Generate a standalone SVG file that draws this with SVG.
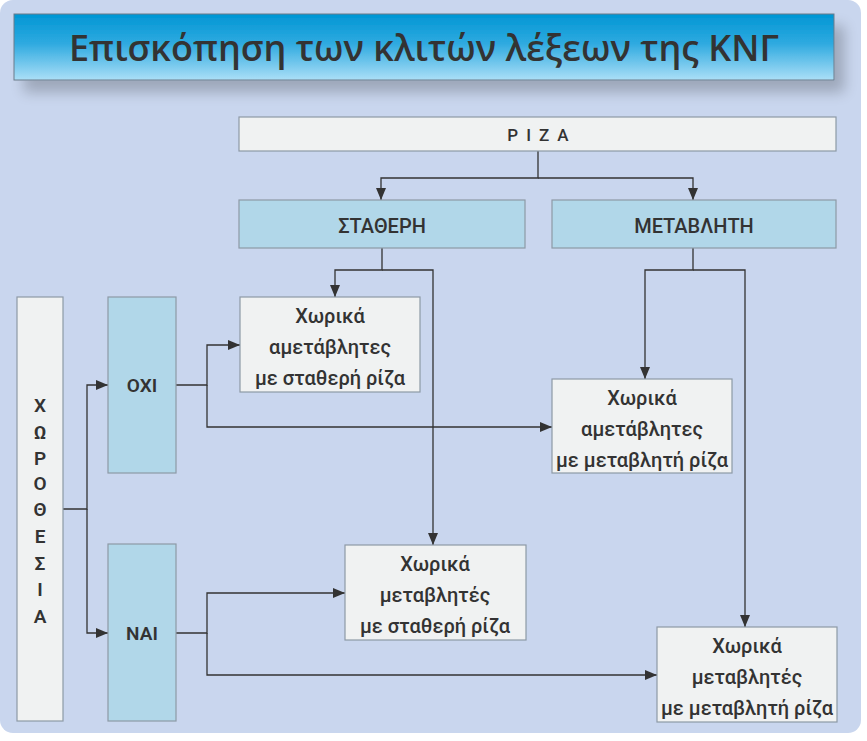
<svg xmlns="http://www.w3.org/2000/svg" width="867" height="741" viewBox="0 0 867 741">
<defs>
<linearGradient id="tg" x1="0" y1="0" x2="0" y2="1">
<stop offset="0" stop-color="#0096D4"/>
<stop offset="0.45" stop-color="#2FAAE0"/>
<stop offset="1" stop-color="#ABDFF7"/>
</linearGradient>
<filter id="sh" x="-10%" y="-30%" width="125%" height="220%">
<feGaussianBlur in="SourceAlpha" stdDeviation="7"/>
<feOffset dx="10" dy="12" result="b"/>
<feComponentTransfer><feFuncA type="linear" slope="0.22"/></feComponentTransfer>
<feMerge><feMergeNode/><feMergeNode in="SourceGraphic"/></feMerge>
</filter>
<marker id="ar" markerWidth="12" markerHeight="10" refX="12" refY="5" orient="auto" markerUnits="userSpaceOnUse">
<path d="M0,0 L12,5 L0,10 Z" fill="#333"/>
</marker>
</defs>
<style>
text{font-family:Roboto,"Open Sans","Noto Sans",sans-serif;fill:#333;text-anchor:middle}
.lt{fill:#F0F2F2;stroke:#8D99A6;stroke-width:1.2}
.bl{fill:#B1D7E9;stroke:#8D99A6;stroke-width:1.2}
.t{font-size:20px;font-weight:500}
.v{font-size:19px;font-weight:600}
.c{fill:none;stroke:#333;stroke-width:1.3}
</style>
<rect x="0" y="0" width="861" height="733" rx="13" fill="#C9D6EE"/>
<g id="title" filter="url(#sh)">
<rect x="14" y="14" width="820" height="66" fill="url(#tg)" stroke="#6A7A8A" stroke-width="1"/>
</g>
<text x="424" y="61" style="font-family:'Open Sans','Noto Sans',sans-serif;font-size:36px;font-weight:600">Επισκόπηση των κλιτών λέξεων της ΚΝΓ</text>

<g id="connectors" class="c">
<path d="M538,151 V178 H381 V200" marker-end="url(#ar)"/>
<path d="M538,178 H693 V200" marker-end="url(#ar)"/>
<path d="M382,248 V270 H335 V297" marker-end="url(#ar)"/>
<path d="M382,270 H433 V545" marker-end="url(#ar)"/>
<path d="M693,248 V270 H645 V379" marker-end="url(#ar)"/>
<path d="M693,270 H745 V627" marker-end="url(#ar)"/>
<path d="M63,509 H87 V385 H108" marker-end="url(#ar)"/>
<path d="M87,509 V633 H108" marker-end="url(#ar)"/>
<path d="M176,385 H207 V345 H240" marker-end="url(#ar)"/>
<path d="M207,385 V427 H552" marker-end="url(#ar)"/>
<path d="M176,633 H207 V593 H345" marker-end="url(#ar)"/>
<path d="M207,633 V675 H657" marker-end="url(#ar)"/>
</g>

<g id="riza">
<rect class="lt" x="239" y="117" width="597" height="34"/>
<text x="542" y="141" style="font-size:17px;font-weight:500;letter-spacing:8px">ΡΙΖΑ</text>
</g>
<g id="statheri">
<rect class="bl" x="239" y="200" width="286" height="48"/>
<text class="t" x="382" y="233">ΣΤΑΘΕΡΗ</text>
</g>
<g id="metavliti">
<rect class="bl" x="552" y="200" width="284" height="48"/>
<text class="t" x="694" y="233">ΜΕΤΑΒΛΗΤΗ</text>
</g>
<g id="xorothesia">
<rect class="lt" x="17" y="297" width="46" height="424"/>
<text class="v" x="40" y="412">Χ</text>
<text class="v" x="40" y="439">Ω</text>
<text class="v" x="40" y="465">Ρ</text>
<text class="v" x="40" y="490">Ο</text>
<text class="v" x="40" y="516">Θ</text>
<text class="v" x="40" y="543">Ε</text>
<text class="v" x="40" y="570">Σ</text>
<text class="v" x="40" y="596">Ι</text>
<text class="v" x="40" y="623">Α</text>
</g>
<g id="oxi">
<rect class="bl" x="108" y="297" width="68" height="176"/>
<text class="v" x="142" y="392">ΟΧΙ</text>
</g>
<g id="nai">
<rect class="bl" x="108" y="544" width="68" height="177"/>
<text class="v" x="142" y="640">ΝΑΙ</text>
</g>
<g id="box1">
<rect class="lt" x="240" y="297" width="180" height="95"/>
<text class="t" x="330" y="323">Χωρικά</text>
<text class="t" x="330" y="354">αμετάβλητες</text>
<text class="t" x="330" y="385">με σταθερή ρίζα</text>
</g>
<g id="box2">
<rect class="lt" x="552" y="379" width="180" height="94"/>
<text class="t" x="642" y="405">Χωρικά</text>
<text class="t" x="642" y="436">αμετάβλητες</text>
<text class="t" x="642" y="467">με μεταβλητή ρίζα</text>
</g>
<g id="box3">
<rect class="lt" x="345" y="545" width="181" height="95"/>
<text class="t" x="435" y="571">Χωρικά</text>
<text class="t" x="435" y="602">μεταβλητές</text>
<text class="t" x="435" y="633">με σταθερή ρίζα</text>
</g>
<g id="box4">
<rect class="lt" x="657" y="627" width="180" height="95"/>
<text class="t" x="747" y="653">Χωρικά</text>
<text class="t" x="747" y="684">μεταβλητές</text>
<text class="t" x="747" y="715">με μεταβλητή ρίζα</text>
</g>
</svg>
